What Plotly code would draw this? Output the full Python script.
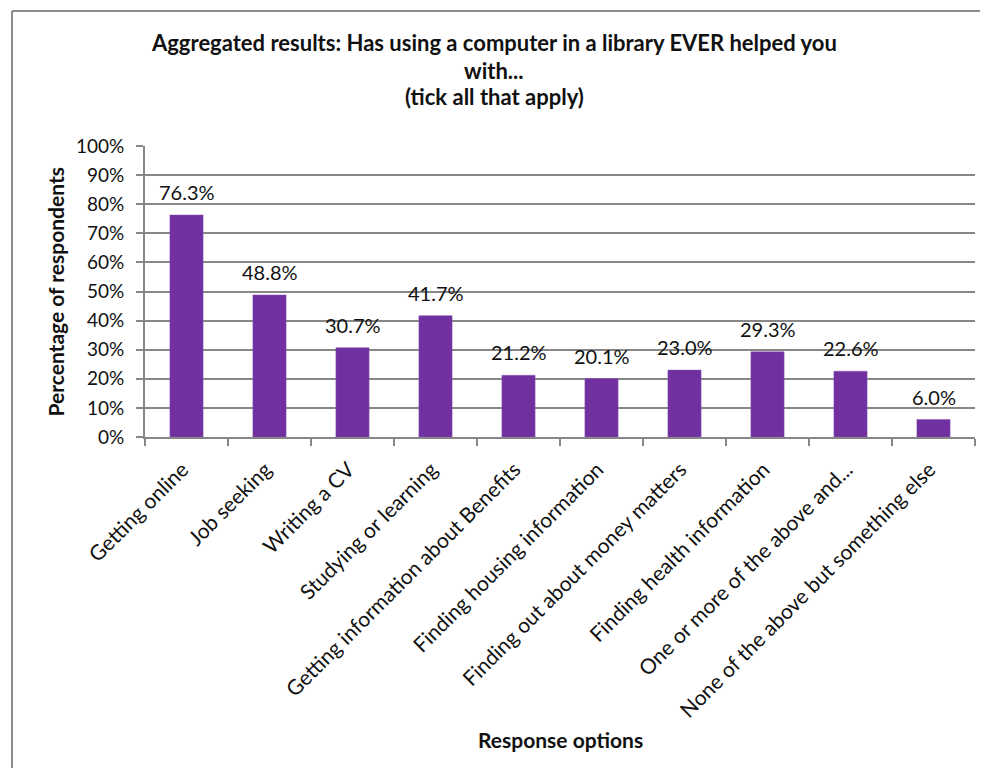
import plotly.graph_objects as go

categories = [
    "Getting online",
    "Job seeking",
    "Writing a CV",
    "Studying or learning",
    "Getting information about Benefits",
    "Finding housing information",
    "Finding out about money matters",
    "Finding health information",
    "One or more of the above and...",
    "None of the above but something else",
]
values = [76.3, 48.8, 30.7, 41.7, 21.2, 20.1, 23.0, 29.3, 22.6, 6.0]
y_ticks = [0, 10, 20, 30, 40, 50, 60, 70, 80, 90, 100]
y_tick_labels = ["0%", "10%", "20%", "30%", "40%", "50%", "60%", "70%", "80%", "90%", "100%"]
title_lines = [
    "Aggregated results: Has using a computer in a library EVER helped you",
    "with...",
    "(tick all that apply)",
]

FONT = "Lato"
GRID = "#878787"
BAR = "#7030A0"
TXT = "#111111"

# figure geometry (page has an 8px body margin)
W, H = 972, 760
L, R, T, B = 137, 5, 138, 331
PW, PH = W - L - R, H - T - B
PB = H - B  # plot bottom in px


def px_x(x):
    return (x - L) / PW


def px_y(y):
    return (PB - y) / PH


fig = go.Figure()
fig.add_trace(go.Bar(
    x=categories, y=values, width=0.4,
    marker=dict(color=BAR, line=dict(color="#8a55b5", width=0.5)),
    hoverinfo="x+y",
))

for c, v in zip(categories, values):
    fig.add_annotation(x=c, y=v, xref="x", yref="y", text=f"{v:.1f}%",
                       showarrow=False, yanchor="middle", yshift=23,
                       font=dict(family=FONT, size=20, color=TXT))

fig.update_layout(
    width=W, height=H,
    margin=dict(l=L, r=R, t=T, b=B),
    paper_bgcolor="white", plot_bgcolor="white",
    showlegend=False,
    font=dict(family=FONT, color=TXT),
)

# title lines
for i, line in enumerate(title_lines):
    fig.add_annotation(text=line, xref="paper", yref="paper",
                       x=px_x(486), y=px_y(35 + 27 * i), showarrow=False,
                       xanchor="center", yanchor="middle",
                       font=dict(family=FONT, size=22, color=TXT, weight="bold"))

fig.update_xaxes(
    type="category", range=[-0.5, 9.5],
    showline=True, linecolor=GRID, linewidth=2,
    ticks="outside", tickson="boundaries", ticklen=7, tickcolor=GRID, tickwidth=2,
    tickangle=-45, ticklabelstandoff=10, ticklabelshift=-4,
    tickfont=dict(family=FONT, size=21, color=TXT),
    showgrid=False,
)
fig.update_yaxes(
    range=[0, 100], tickvals=y_ticks, ticktext=y_tick_labels,
    showline=True, linecolor=GRID, linewidth=2,
    ticks="outside", ticklen=7, tickcolor=GRID, tickwidth=2,
    ticklabelstandoff=8,
    showgrid=True, gridcolor=GRID, gridwidth=2,
    tickfont=dict(family=FONT, size=19, color=TXT),
    zeroline=False,
)

# axis titles
fig.add_annotation(text="Percentage of respondents", xref="paper", yref="paper",
                   x=px_x(47), y=0.5, textangle=-90, showarrow=False,
                   xanchor="center", yanchor="middle",
                   font=dict(family=FONT, size=21, color=TXT, weight="bold"))
fig.add_annotation(text="Response options", xref="paper", yref="paper",
                   x=px_x(552), y=px_y(731), showarrow=False,
                   xanchor="center", yanchor="middle",
                   font=dict(family=FONT, size=21, color=TXT, weight="bold"))

# outer chart border (only top and left edges are visible in the frame)
fig.add_shape(type="line", xref="paper", yref="paper",
              x0=px_x(4), x1=px_x(W + 10), y0=px_y(3), y1=px_y(3),
              line=dict(color="#8c8c8c", width=2), layer="below")
fig.add_shape(type="line", xref="paper", yref="paper",
              x0=px_x(4), x1=px_x(4), y0=px_y(3), y1=px_y(H + 10),
              line=dict(color="#8c8c8c", width=2), layer="below")

fig.write_html("out.html")
